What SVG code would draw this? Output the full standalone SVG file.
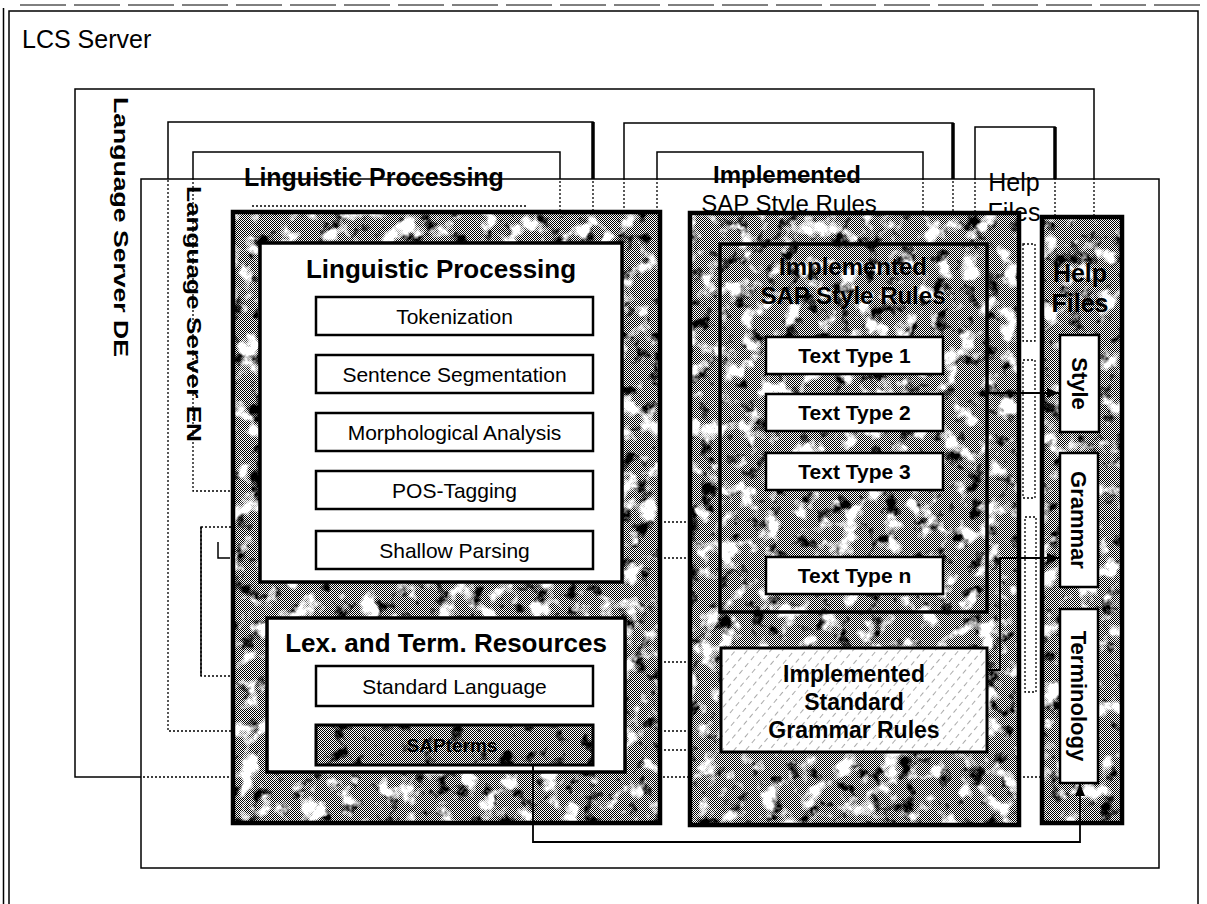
<svg xmlns="http://www.w3.org/2000/svg" xmlns:xlink="http://www.w3.org/1999/xlink" width="1207" height="904" viewBox="0 0 1207 904">
<style>
.t{font-family:"Liberation Sans",Arial,sans-serif;fill:#000}
.b{font-weight:bold}
.mid{text-anchor:middle}
.ln{fill:none;stroke:#000;stroke-width:1.5}
.thin{fill:none;stroke:#000;stroke-width:1}
.solid{fill:none;stroke:#000;stroke-width:1.5}
.dotted{fill:none;stroke:#000;stroke-width:1.3;stroke-dasharray:2 2}
.thick{fill:none;stroke:#000;stroke-width:3.5}
.pframe{fill:none;stroke:#000;stroke-width:4.5}
.wbox{fill:#fff;stroke:#000;stroke-width:3.5}
.tbox{fill:none;stroke:#000;stroke-width:3.5}
.sub{fill:#fff;stroke:#000;stroke-width:2.5}
.subnf{fill:none;stroke:#000;stroke-width:3}
.conn{fill:none;stroke:#000;stroke-width:1.8}
.dith{fill:url(#dither)}
.dk{fill:#000;filter:url(#fDark)}
.lt{fill:#fff;filter:url(#fLight)}
</style>
<defs>
<pattern id="dither" width="2" height="2" patternUnits="userSpaceOnUse">
<rect width="2" height="2" fill="#fff"/>
<rect width="1" height="1" fill="#000"/>
<rect x="1" y="1" width="1" height="1" fill="#000"/>
</pattern>
<pattern id="hatch" width="9" height="9" patternUnits="userSpaceOnUse" patternTransform="rotate(40)">
<line x1="0" y1="0" x2="0" y2="9" stroke="#555" stroke-width="1" stroke-dasharray="5 4"/>
</pattern>
<filter id="fDark" x="0" y="0" width="1" height="1" color-interpolation-filters="sRGB">
<feTurbulence type="fractalNoise" baseFrequency="0.06" numOctaves="4" seed="2"/>
<feColorMatrix type="matrix" values="0 0 0 0 0  0 0 0 0 0  0 0 0 0 0  -5.5 0 0 0 2.35"/>
</filter>
<filter id="fLight" x="0" y="0" width="1" height="1" color-interpolation-filters="sRGB">
<feTurbulence type="fractalNoise" baseFrequency="0.05" numOctaves="4" seed="9"/>
<feColorMatrix type="matrix" values="0 0 0 0 1  0 0 0 0 1  0 0 0 0 1  6 0 0 0 -3.2"/>
</filter>
<marker id="arr" markerWidth="12" markerHeight="10" refX="12" refY="5" orient="auto" markerUnits="userSpaceOnUse">
<path d="M0,0 L12,5 L0,10 Z" fill="#000"/>
</marker>
<clipPath id="outside"><path clip-rule="evenodd" d="M0,0H1207V904H0Z M141,179H1159V868H141Z"/></clipPath>
<clipPath id="inside"><rect x="141" y="179" width="1018" height="689"/></clipPath>
<g id="backLines">
<rect x="75" y="89" width="1019" height="688"/>
<rect x="168" y="122" width="425" height="609"/>
<rect x="193" y="152" width="367" height="339"/>
<path d="M624,240 V123 H953 V240"/>
<path d="M657,240 V152 H923 V240"/>
<path d="M975,240 V127 H1055 V240"/>
<path d="M252,206 H527"/>
<rect x="201" y="527" width="60" height="149"/>
<path d="M640,522 H700 M640,558 H700 M640,662 H700 M640,731 H700 M640,750 H700"/>
<rect x="1023" y="244" width="12" height="97"/>
<rect x="1023" y="360" width="12" height="138"/>
<rect x="1025" y="517" width="11" height="175"/>
</g>
</defs>

<rect width="1207" height="904" fill="#fff"/>

<g id="lcs-server">
<path class="thin" d="M20,5 H1200" stroke-dasharray="46 8"/>
<rect class="ln" x="9" y="11" width="1189" height="900"/>
<path class="ln" d="M3.5,8 V904"/>
<text class="t" x="22" y="48" font-size="25">LCS Server</text>
</g>

<g id="back-layers">
<use xlink:href="#backLines" class="solid" clip-path="url(#outside)"/>
<use xlink:href="#backLines" class="dotted" clip-path="url(#inside)"/>
<path class="thick" d="M593,122 V179 M953,123 V179 M1055,127 V179"/>
<path class="solid" d="M201,527 V676"/>
<path class="ln" d="M218,542 V558 H230"/>
<text class="t b" transform="translate(114,97) rotate(90)" font-size="21" textLength="260" lengthAdjust="spacingAndGlyphs">Language Server DE</text>
<text class="t b" transform="translate(187,186) rotate(90)" font-size="21" textLength="256" lengthAdjust="spacingAndGlyphs">Language Server EN</text>
<text class="t b mid" x="374" y="186" font-size="25">Linguistic Processing</text>
<text class="t b mid" x="787" y="183" font-size="24">Implemented</text>
<text class="t mid" x="789" y="212" font-size="24">SAP Style Rules</text>
<text class="t mid" x="1014" y="191" font-size="25">Help</text>
<text class="t mid" x="1014" y="221" font-size="25">Files</text>
</g>

<g id="front-frame">
<rect class="ln" x="141" y="179" width="1018" height="689"/>
</g>

<g id="linguistic-panel">
<rect class="dith" x="233" y="212" width="427" height="611"/>
<rect class="dk" x="233" y="212" width="427" height="611"/>
<rect class="lt" x="233" y="212" width="427" height="611"/>
<rect class="pframe" x="233" y="212" width="427" height="611"/>
</g>

<g id="linguistic-processing">
<rect class="wbox" x="260" y="243" width="362" height="339"/>
<text class="t b mid" x="441" y="278" font-size="26">Linguistic Processing</text>
</g>
<g id="tokenization"><rect class="sub" x="316" y="297" width="277" height="38"/><text class="t mid" x="454.5" y="324" font-size="21">Tokenization</text></g>
<g id="sentence-segmentation"><rect class="sub" x="316" y="355" width="277" height="38"/><text class="t mid" x="454.5" y="382" font-size="21">Sentence Segmentation</text></g>
<g id="morphological-analysis"><rect class="sub" x="316" y="413" width="277" height="38"/><text class="t mid" x="454.5" y="440" font-size="21">Morphological Analysis</text></g>
<g id="pos-tagging"><rect class="sub" x="316" y="471" width="277" height="38"/><text class="t mid" x="454.5" y="498" font-size="21">POS-Tagging</text></g>
<g id="shallow-parsing"><rect class="sub" x="316" y="531" width="277" height="38"/><text class="t mid" x="454.5" y="558" font-size="21">Shallow Parsing</text></g>

<g id="lex-term-resources">
<rect class="wbox" x="267" y="618" width="358" height="154"/>
<text class="t b mid" x="446" y="652" font-size="26">Lex. and Term. Resources</text>
</g>
<g id="standard-language"><rect class="sub" x="316" y="666" width="277" height="40"/><text class="t mid" x="454.5" y="694" font-size="21">Standard Language</text></g>
<g id="sapterms">
<rect class="dith" x="316" y="725" width="277" height="40"/>
<rect class="dk" x="316" y="725" width="277" height="40"/>
<rect class="subnf" x="316" y="725" width="277" height="40"/>
<text class="t b mid" x="452" y="752" font-size="19">SAPterms</text>
</g>

<g id="style-rules-panel">
<rect class="dith" x="690" y="213" width="329" height="612"/>
<rect class="dk" x="690" y="213" width="329" height="612"/>
<rect class="lt" x="690" y="213" width="329" height="612"/>
<rect class="pframe" x="690" y="213" width="329" height="612"/>
</g>
<g id="implemented-sap-style-rules">
<rect class="tbox" x="720" y="244" width="267" height="368"/>
<text class="t b mid" x="853" y="275" font-size="24">Implemented</text>
<text class="t b mid" x="853" y="304" font-size="24">SAP Style Rules</text>
</g>
<g id="text-type-1"><rect class="sub" x="766" y="337" width="177" height="37"/><text class="t b mid" x="854.5" y="363" font-size="21">Text Type 1</text></g>
<g id="text-type-2"><rect class="sub" x="766" y="394" width="177" height="37"/><text class="t b mid" x="854.5" y="420" font-size="21">Text Type 2</text></g>
<g id="text-type-3"><rect class="sub" x="766" y="453" width="177" height="37"/><text class="t b mid" x="854.5" y="479" font-size="21">Text Type 3</text></g>
<g id="text-type-n"><rect class="sub" x="766" y="557" width="177" height="37"/><text class="t b mid" x="854.5" y="583" font-size="21">Text Type n</text></g>
<g id="standard-grammar-rules">
<rect x="721" y="648" width="266" height="104" fill="#fff"/>
<rect x="721" y="648" width="266" height="104" fill="url(#hatch)"/>
<rect class="subnf" x="721" y="648" width="266" height="104"/>
<text class="t b mid" x="854" y="682" font-size="23">Implemented</text>
<text class="t b mid" x="854" y="710" font-size="23">Standard</text>
<text class="t b mid" x="854" y="738" font-size="23">Grammar Rules</text>
</g>

<g id="help-files-panel">
<rect class="dith" x="1042" y="217" width="80" height="606"/>
<rect class="dk" x="1042" y="217" width="80" height="606"/>
<rect class="lt" x="1042" y="217" width="80" height="606"/>
<rect class="pframe" x="1042" y="217" width="80" height="606"/>
<text class="t b mid" x="1080" y="282" font-size="25">Help</text>
<text class="t b mid" x="1080" y="312" font-size="25">Files</text>
</g>
<g id="style"><rect class="sub" x="1060" y="335" width="39" height="97"/><text class="t b mid" transform="translate(1071.5,383.5) rotate(90)" font-size="22">Style</text></g>
<g id="grammar"><rect class="sub" x="1060" y="453" width="38" height="134"/><text class="t b mid" transform="translate(1071,520) rotate(90)" font-size="22">Grammar</text></g>
<g id="terminology"><rect class="sub" x="1060" y="609" width="38" height="174"/><text class="t b mid" transform="translate(1071,696) rotate(90)" font-size="22">Terminology</text></g>

<g id="connectors">
<path class="conn" d="M987,393 H1059" marker-end="url(#arr)"/>
<path class="conn" d="M987,670 H1000 V558 H1059" marker-end="url(#arr)"/>
<path class="conn" d="M533,765 V842 H1080 V784" marker-end="url(#arr)"/>
</g>
</svg>
